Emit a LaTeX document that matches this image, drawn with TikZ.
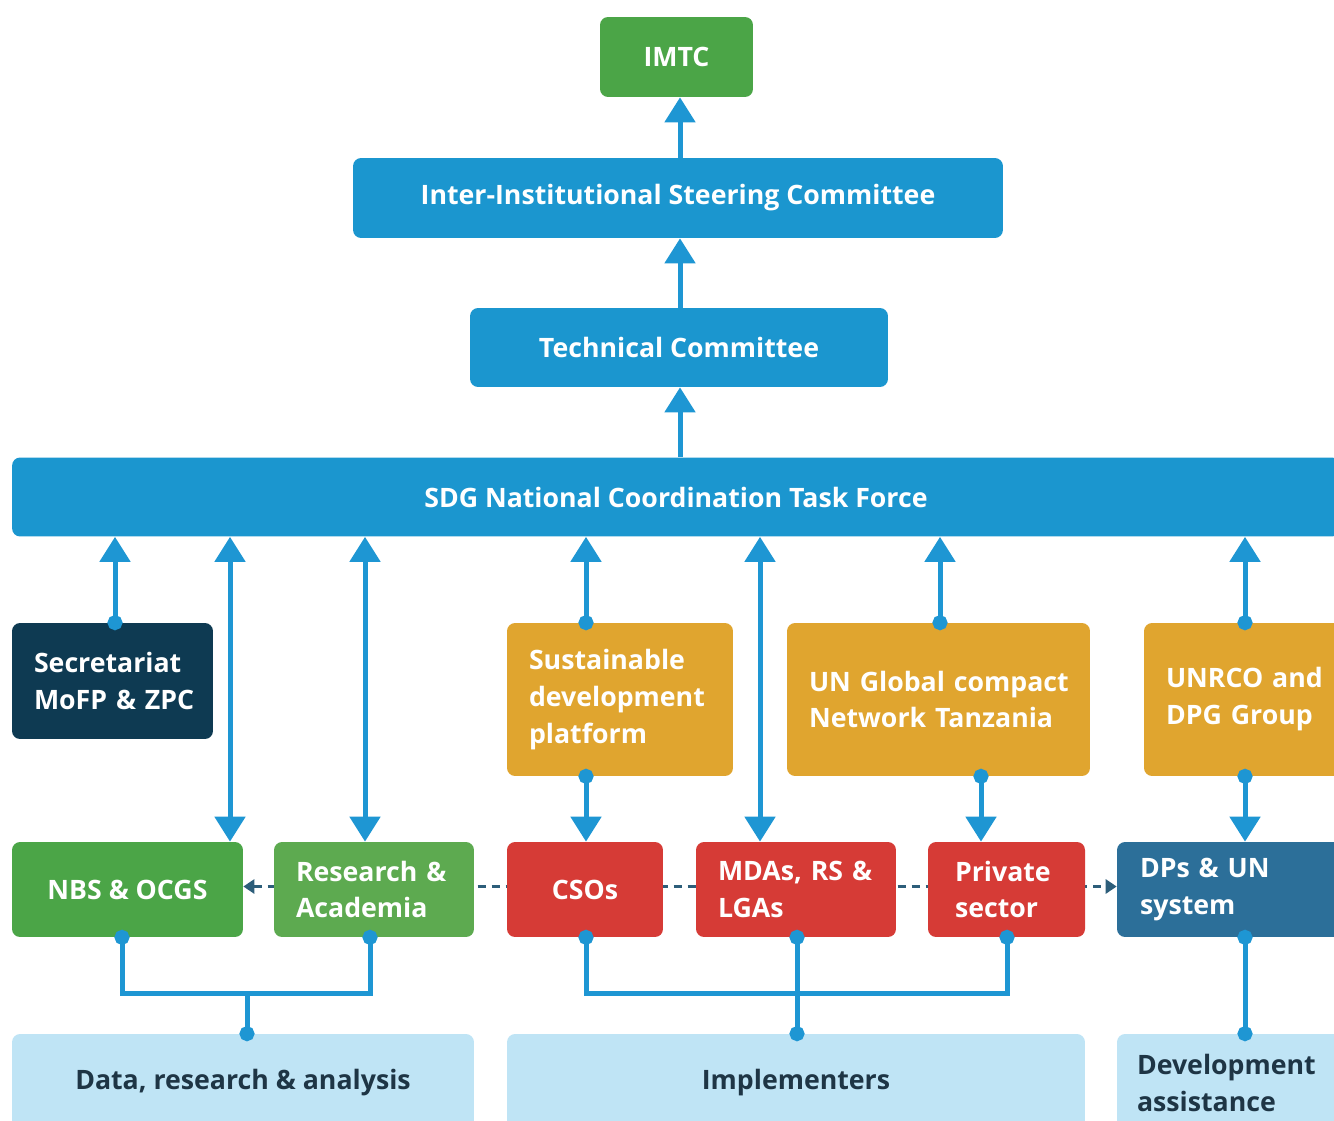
\documentclass[tikz,border=0pt]{standalone}
\usepackage{fontspec}
\setmainfont{Open Sans}
\usepackage{tikz}
\usetikzlibrary{arrows.meta,backgrounds,positioning}
\definecolor{boxblue}{HTML}{1B96CF}
\definecolor{linkblue}{HTML}{1E96D3}
\definecolor{boxgreen}{HTML}{4BA547}
\definecolor{lightgreen}{HTML}{5DAA50}
\definecolor{navy}{HTML}{0E3A52}
\definecolor{ochre}{HTML}{E0A52F}
\definecolor{boxred}{HTML}{D63B36}
\definecolor{steel}{HTML}{2C6F99}
\definecolor{paleblue}{HTML}{BFE4F5}
\definecolor{darktext}{HTML}{1E3545}
\definecolor{dashblue}{HTML}{2D5E7A}
\tikzset{
    org box/.style={
        rounded corners=0.16cm,
        text=white,inner sep=0pt,
        font=\bfseries\fontsize{15.2}{21}\selectfont,
        align=center
    },
    left box/.style={
        org box,align=left,inner xsep=0.44cm
    },
    base box/.style={
        org box,fill=paleblue,text=darktext
    },
    link/.style={draw=linkblue,line width=0.1cm},
    dot/.style={shorten #1=-0.15cm},
    dash link/.style={
        draw=dashblue,line width=0.06cm,
        dash pattern=on 0.16cm off 0.12cm
    },
    >={Triangle[width=0.6cm,length=0.5cm]}
}
\begin{document}
\begin{tikzpicture}[x=0.02cm,y=-0.02cm]
\useasboundingbox (0,0) rectangle (1334,1121);
\clip (0,0) rectangle (1334,1121);

% committees
\node[org box,fill=boxgreen,minimum width=3.06cm,minimum height=1.6cm] (imtc) at (676.5,57) {IMTC};
\node[org box,fill=boxblue,minimum width=13cm,minimum height=1.6cm] (isc) at (678,198) {Inter-Institutional Steering Committee};
\node[org box,fill=boxblue,minimum width=8.36cm,minimum height=1.58cm] (tc) at (679,347.5) {Technical Committee};
\node[org box,fill=boxblue,minimum width=26.56cm,minimum height=1.58cm] (tf) at (676,497) {SDG National Coordination Task Force};

% platforms
\node[left box,fill=navy,text width=3.14cm,minimum height=2.32cm] (sec) at (112.5,681) {Secretariat\\\mbox{MoFP \& ZPC}};
\node[left box,fill=ochre,text width=3.64cm,minimum height=3.06cm] (sdp) at (620,699.5) {Sustainable\\development\\platform};
\node[left box,fill=ochre,text width=5.18cm,minimum height=3.06cm] (ungc) at (938.5,699.5) {\mbox{UN Global compact}\\\mbox{Network Tanzania}};
\node[left box,fill=ochre,text width=3.36cm,minimum height=3.06cm] (unrco) at (1250,699.5) {\mbox{UNRCO and}\\\mbox{DPG Group}};

% actors
\node[org box,fill=boxgreen,minimum width=4.62cm,minimum height=1.9cm] (nbs) at (127.5,889.5) {NBS \& OCGS};
\node[left box,fill=lightgreen,text width=3.12cm,minimum height=1.9cm] (res) at (374,889.5) {\mbox{Research \&}\\Academia};
\node[org box,fill=boxred,minimum width=3.12cm,minimum height=1.9cm] (cso) at (585,889.5) {CSOs};
\node[left box,fill=boxred,text width=3.12cm,minimum height=1.9cm] (mda) at (796,889.5) {\mbox{MDAs, RS \&}\\LGAs};
\node[left box,fill=boxred,inner xsep=0.54cm,text width=2.06cm,minimum height=1.9cm] (priv) at (1006.5,889.5) {Private\\sector};
\node[left box,fill=steel,inner xsep=0.46cm,text width=3.86cm,minimum height=1.9cm] (dps) at (1236.5,889.5) {\mbox{DPs \& UN}\\system};

% groups
\node[base box,minimum width=9.24cm,minimum height=1.96cm] (data) at (243,1083) {Data, research \& analysis};
\node[base box,minimum width=11.56cm,minimum height=1.96cm] (impl) at (796,1083) {Implementers};
\node[base box,align=left,inner xsep=0.4cm,text width=3.98cm,minimum height=1.96cm] (dev) at (1236.5,1083) {Development\\assistance};

\foreach \n/\x in {a/115,b/230,c/365,d/586,e/760,f/940,g/981,h/1245,j/122,k/370,m/247,n/1007,o/797,p/680}
    \coordinate (col\n) at (\x,0);
\coordinate (brk) at (0,993);

\draw[link,->] (colp |- isc.north) -- (colp |- imtc.south);
\draw[link,->] (colp |- tc.north) -- (colp |- isc.south);
\draw[link,->] (colp |- tf.north) -- (colp |- tc.south);

\foreach \c/\nd in {a/sec,d/sdp,f/ungc,h/unrco}
    \draw[link,{Circle[length=0.3cm]}->,dot=<] (col\c |- \nd.north) -- (col\c |- tf.south);
\foreach \c/\nd in {b/nbs,c/res,e/mda}
    \draw[link,<->] (col\c |- \nd.north) -- (col\c |- tf.south);
\draw[link,{Circle[length=0.3cm]}->,dot=<] (cold |- sdp.south) -- (cold |- cso.north);
\draw[link,{Circle[length=0.3cm]}->,dot=<] (colg |- ungc.south) -- (colg |- priv.north);
\draw[link,{Circle[length=0.3cm]}->,dot=<] (colh |- unrco.south) -- (colh |- dps.north);

% brackets to the groups
\draw[link,{Circle[length=0.3cm]}-{Circle[length=0.3cm]},dot=<,dot=>] (colj |- nbs.south) -- (colj |- brk) -- (colk |- brk) -- (colk |- res.south);
\draw[link,-{Circle[length=0.3cm]},dot=>] (colm |- brk) -- (colm |- data.north);
\draw[link,{Circle[length=0.3cm]}-{Circle[length=0.3cm]},dot=<,dot=>] (cold |- cso.south) -- (cold |- brk) -- (coln |- brk) -- (coln |- priv.south);
\draw[link,{Circle[length=0.3cm]}-{Circle[length=0.3cm]},dot=<,dot=>] (colo |- mda.south) -- (colo |- impl.north);
\draw[link,{Circle[length=0.3cm]}-{Circle[length=0.3cm]},dot=<,dot=>] (colh |- dps.south) -- (colh |- dev.north);

\begin{scope}[on background layer]
\draw[dash link,{Triangle[width=0.28cm,length=0.22cm]}-{Triangle[width=0.28cm,length=0.22cm]}] ([yshift=0.06cm]nbs.east) -- ([yshift=0.06cm]dps.west);
\end{scope}
\end{tikzpicture}
\end{document}
